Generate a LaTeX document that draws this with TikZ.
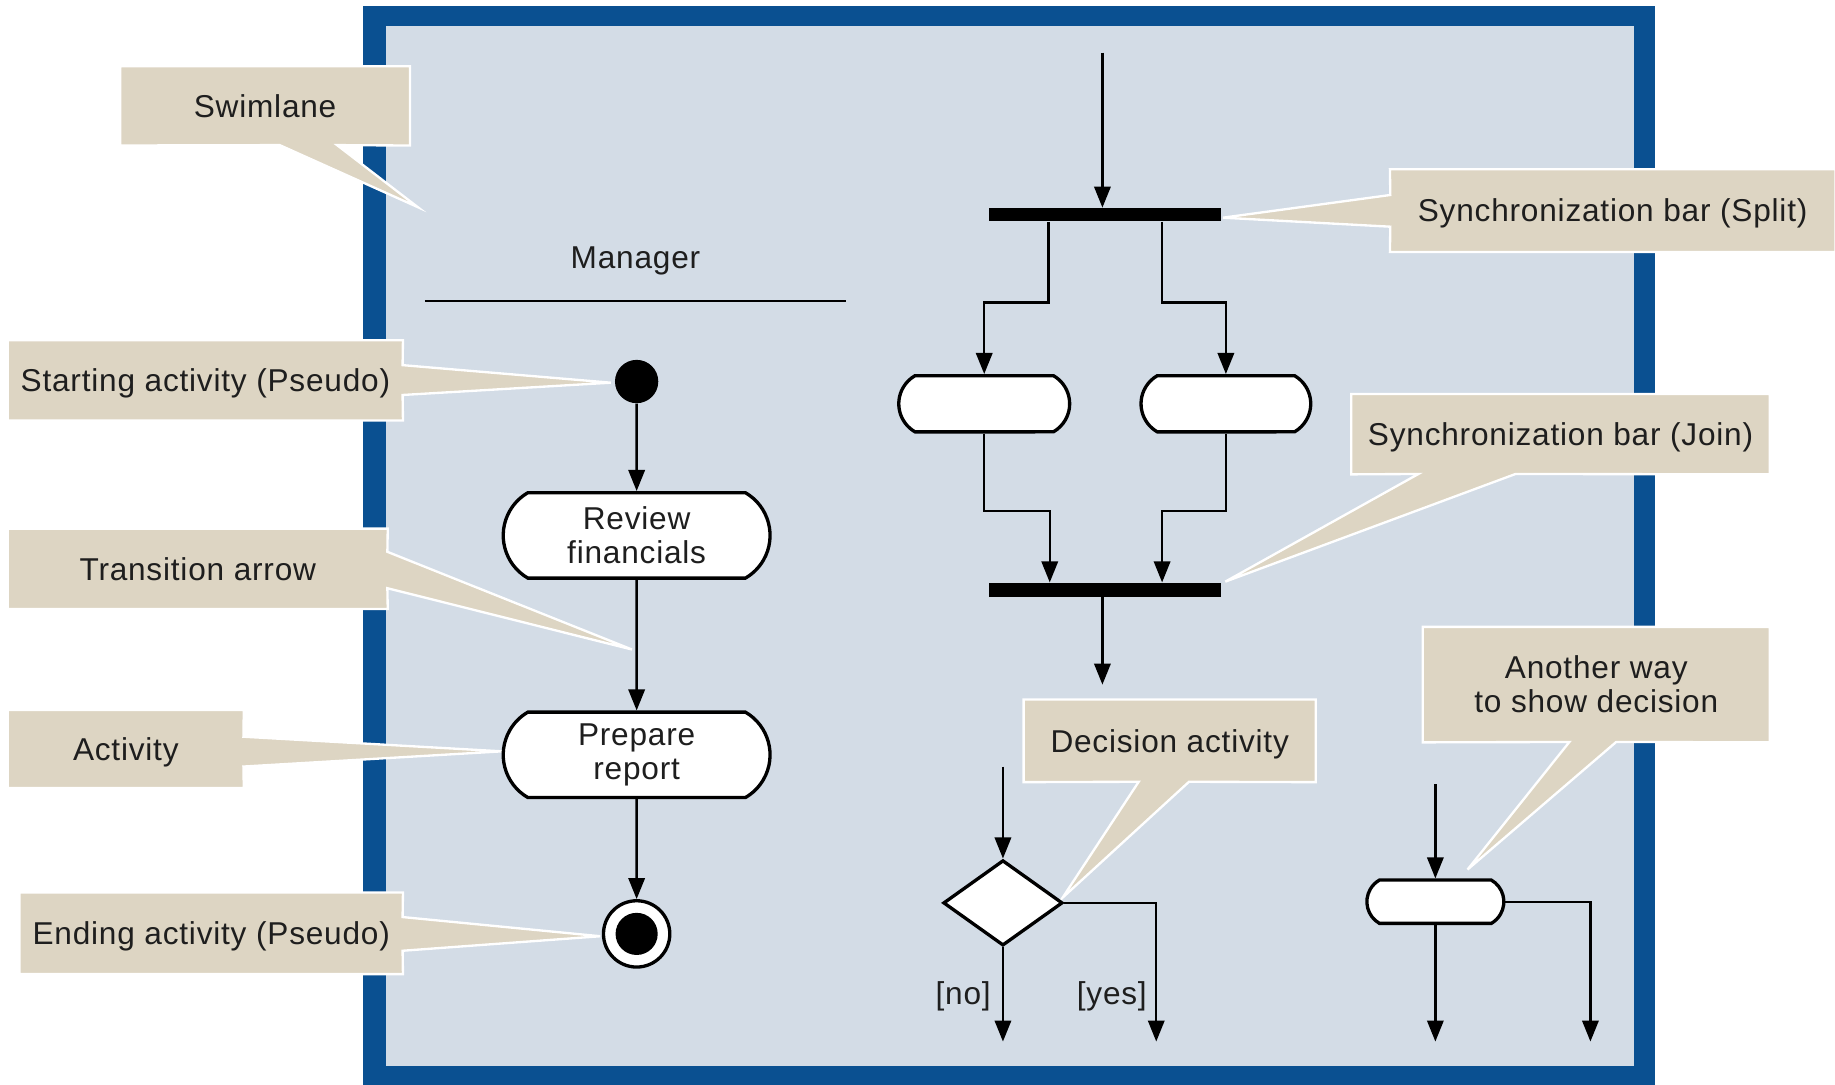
\documentclass[tikz,border=0pt]{standalone}
\usepackage{fontspec}
\setmainfont[LetterSpace=2.5]{Liberation Sans}
\usetikzlibrary{arrows.meta,shapes.misc,shapes.geometric,calc}
\definecolor{frameblue}{RGB}{10,80,145}
\definecolor{lanefill}{RGB}{211,220,230}
\definecolor{beige}{RGB}{221,213,195}
\definecolor{ink}{RGB}{30,30,30}
\pgfdeclarelayer{bg}\pgfdeclarelayer{co}\pgfsetlayers{bg,co,main}
\begin{document}
\begin{tikzpicture}[x=0.6pt,y=-0.6pt,
  every node/.style={font=\fontsize{16.2}{17.5}\selectfont, text=ink},
  oneline/.style={text height=11.6pt, text depth=0pt},
  lbl/.style={inner sep=0pt, align=center},
  callout/.style={fill=beige, draw=white, line width=1.2pt, line join=miter},
  pill/.style={rounded rectangle, rounded rectangle arc length=120, draw=black, fill=white, line width=1.7pt, inner sep=0pt, align=center},
  bar/.style={fill=black, inner sep=0pt, minimum width=118.8pt, minimum height=6.9pt},
  arr/.style={draw=black, line width=1.2pt, -{Triangle[length=10.8pt,width=8.4pt]}},
  ln/.style={draw=black, line width=1.1pt}]
\useasboundingbox (0,0) rectangle (1568,927);
\begin{pgfonlayer}{bg}
\fill[white] (0,0) rectangle (1568,927);
\fill[frameblue] (310,5) rectangle (1414,927);
\fill[lanefill] (330,22) rectangle (1396,911);
\end{pgfonlayer}

% callout labels
\node[lbl, oneline, minimum width=148.2pt, minimum height=40.2pt] (cSwim) at (226.5,90.5) {Swimlane};
\node[lbl, oneline, minimum width=202.2pt, minimum height=40.8pt] (cStart) at (175.5,325) {Starting activity (Pseudo)};
\node[lbl, oneline, minimum width=194.4pt, minimum height=40.8pt] (cTrans) at (169,486) {Transition arrow};
\node[lbl, oneline, minimum width=120.6pt, minimum height=39.6pt] (cAct) at (107.5,640) {Activity};
\node[lbl, oneline, minimum width=196.2pt, minimum height=41.4pt] (cEnd) at (180.5,797.5) {Ending activity (Pseudo)};
\node[lbl, oneline, minimum width=228pt, minimum height=42pt] (cSplit) at (1378,180) {Synchronization bar (Split)};
\node[lbl, oneline, minimum width=214.2pt, minimum height=40.8pt] (cJoin) at (1333.5,371) {Synchronization bar (Join)};
\node[lbl, oneline, minimum width=149.4pt, minimum height=42pt] (cDec) at (999.5,633) {Decision activity};
\node[lbl, minimum width=177.6pt, minimum height=58.8pt] (cAno) at (1364,585) {Another way\\to show decision};

\coordinate (tSwim) at (357,177);
\coordinate (tStart) at (522,327);
\coordinate (tTrans) at (540,555);
\coordinate (tAct) at (429,642);
\coordinate (tEnd) at (513,800);
\coordinate (tSplit) at (1045,186);
\coordinate (tJoin) at (1047,497);
\coordinate (tDec) at (908,767);
\coordinate (tAno) at (1254,743);

\begin{pgfonlayer}{co}
\path[callout] (cSwim.north west) -- (cSwim.north east) -- (cSwim.south east) -- (288,124) -- (tSwim) -- (239,124) -- (cSwim.south west) -- cycle;
\path[callout] (cStart.north west) -- (cStart.north east) -- (344,312) -- (tStart) -- (344,337.5) -- (cStart.south east) -- (cStart.south west) -- cycle;
\path[callout] (cTrans.north west) -- (cTrans.north east) -- (331,471.5) -- (tTrans) -- (331,502.6) -- (cTrans.south east) -- (cTrans.south west) -- cycle;
\path[callout] (cAct.north west) -- (cAct.north east) -- (208,629.5) -- (tAct) -- (208,655) -- (cAct.south east) -- (cAct.south west) -- cycle;
\path[callout] (cEnd.north west) -- (cEnd.north east) -- (344,783.6) -- (tEnd) -- (344,812.4) -- (cEnd.south east) -- (cEnd.south west) -- cycle;
\path[callout] (cSplit.north west) -- (cSplit.north east) -- (cSplit.south east) -- (cSplit.south west) -- (1188,193.7) -- (tSplit) -- (1188,166.6) -- cycle;
\path[callout] (cJoin.north west) -- (cJoin.north east) -- (cJoin.south east) -- (1295,405) -- (tJoin) -- (1212,405) -- (cJoin.south west) -- cycle;
\path[callout] (cDec.north west) -- (cDec.north east) -- (cDec.south east) -- (1016,668) -- (tDec) -- (973,668) -- (cDec.south west) -- cycle;
\path[callout] (cAno.north west) -- (cAno.north east) -- (cAno.south east) -- (1381,634) -- (tAno) -- (1341,634) -- (cAno.south west) -- cycle;
\end{pgfonlayer}

% swimlane
\node[oneline] (mgr) at (543,220) {Manager};
\coordinate (laneL) at (363,257);
\coordinate (laneR) at (723,257);
\draw[ln] (laneL) -- (laneR);

\node[circle, fill=black, minimum size=22.2pt, inner sep=0pt] (start) at (544,326) {};
\node[pill, minimum width=136.8pt, minimum height=43.8pt] (rev) at (544,457.5) {Review\\financials};
\node[pill, minimum width=136.8pt, minimum height=43.8pt] (prep) at (544,645) {Prepare\\report};
\node[circle, draw=black, line width=1.7pt, fill=white, minimum size=34pt, inner sep=0pt] (end) at (544,798) {};
\fill[black] (end.center) circle[radius=10.8pt];

\draw[arr] (start) -- (rev);
\draw[arr] (rev) -- (prep);
\draw[arr] (prep) -- (end);

% fork / join
\node[bar] (split) at (944,183.5) {};
\node[bar, minimum height=7.2pt] (join) at (944,504) {};
\node[pill, minimum width=87.6pt, minimum height=28.8pt] (lp) at (841,345) {};
\node[pill, minimum width=87pt, minimum height=28.8pt] (rp) at (1047.5,345) {};
\coordinate (topin) at (942,45);
\draw[arr] (topin) -- (topin |- split.north);
\draw[arr] ($(split.south)+(-48,0)$) -- ++(0,69) -| (lp.north);
\draw[arr] ($(split.south)+(49,0)$) -- ++(0,69) -| (rp.north);
\draw[arr] (lp.south) -- ++(0,66) -| ($(join.north)+(-47,0)$);
\draw[arr] (rp.south) -- ++(0,66) -| ($(join.north)+(49,0)$);
\coordinate (jout) at (942,585);
\draw[arr] (jout |- join.south) -- (jout);

% decision
\node[diamond, draw=black, fill=white, line width=1.7pt, minimum width=61.2pt, minimum height=43.8pt, inner sep=0pt] (dia) at (857,771.5) {};
\coordinate (din) at (857,655);
\coordinate (dno) at (857,890);
\coordinate (dyes) at (988,890);
\draw[arr] (din) -- (dia.north);
\draw[arr] (dia.south) -- (dno);
\draw[arr] (dia.east) -| (dyes);
\node[oneline] (no) at (823,849) {[no]};
\node[oneline] (yes) at (950,849) {[yes]};

% another way
\node[pill, minimum width=70.2pt, minimum height=22.2pt] (ap) at (1226.5,770.5) {};
\coordinate (ain) at (1226.5,670);
\coordinate (aout1) at (1226.5,890);
\coordinate (aout2) at (1359,890);
\draw[arr] (ain) -- (ap.north);
\draw[arr] (ap.south) -- (aout1);
\draw[arr] (ap.east) -| (aout2);
\end{tikzpicture}
\end{document}
